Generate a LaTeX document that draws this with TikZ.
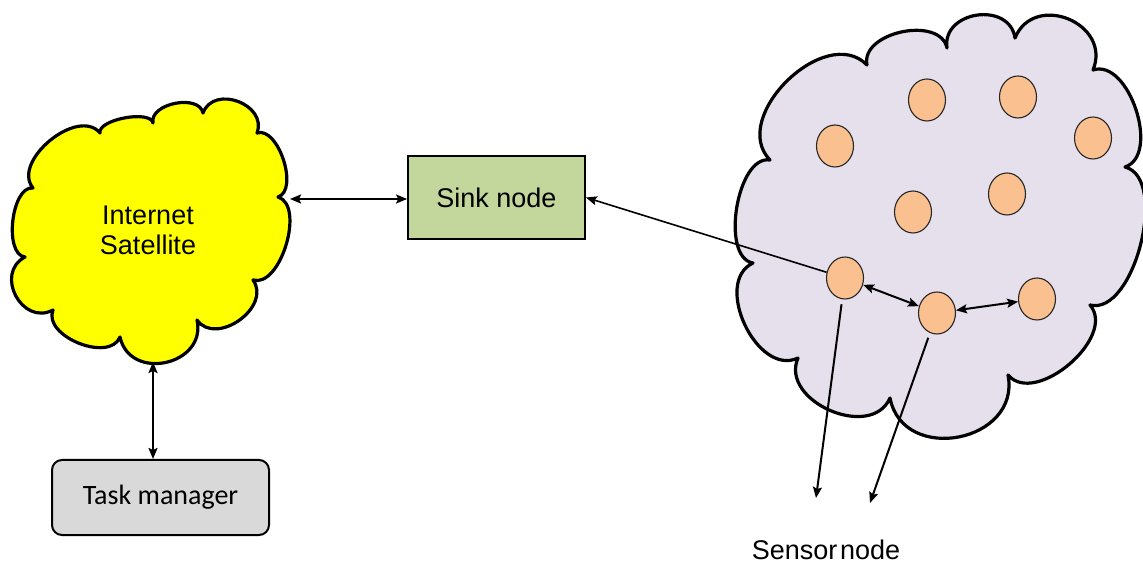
\documentclass[tikz,border=0pt]{standalone}
\usepackage{fontspec}
\setmainfont{Liberation Sans}
\newfontfamily\calibrifont{Carlito}
\usetikzlibrary{arrows.meta,shapes.geometric}

\definecolor{skyyellow}{HTML}{FFFF00}
\definecolor{fieldlilac}{HTML}{E5E0EC}
\definecolor{sensorfill}{HTML}{FAC090}
\definecolor{sinkgreen}{HTML}{C3D69B}
\definecolor{taskgray}{HTML}{D9D9D9}

\tikzset{
  puff/.style={bend left=90, looseness=#1},
  cloudline/.style={draw=black, line width=3.2pt, line join=round},
  sensor/.style={ellipse, draw=black!85, line width=1.1pt, fill=sensorfill,
    minimum width=37pt, minimum height=42pt, inner sep=0pt},
  >={Stealth[length=11pt, width=9pt, inset=2pt]},
  link/.style={line width=2pt},
  boxtext/.style={font=\fontsize{27}{30}\selectfont},
}

\begin{document}
\begin{tikzpicture}[x=1pt, y=1pt]
\useasboundingbox (0,0) rectangle (1143,565);

% Internet / satellite cloud
\draw[cloudline, fill=skyyellow]
  (33,377) to[puff=1.02] (100,432) to[puff=0.65] (153,442)
  to[puff=1.0] (203,452) to[puff=1.36] (257,432)
  to[puff=0.85] (278,368) to[puff=0.85] (253,285)
  to[puff=1.23] (197,245) to[puff=1.5] (120,228)
  to[puff=1.0] (53,255) to[puff=1.5] (25,308)
  to[puff=0.8] (33,377) -- cycle;
\node[boxtext, align=center] (inet) at (148,335) {Internet\\Satellite};
\coordinate (inetR) at (290,366);
\coordinate (inetB) at (153,203);

% Sensor field cloud
\draw[cloudline, fill=fieldlilac]
  (770,405) to[puff=1.12] (867,500) to[puff=1.05] (947,517)
  to[puff=1.4] (1015,527) to[puff=1.53] (1093,495)
  to[puff=0.95] (1125,398) to[puff=0.82] (1090,260)
  to[puff=1.0] (1008,190) to[puff=1.46] (890,167)
  to[puff=1.2] (798,207) to[puff=1.1] (753,302)
  to[puff=0.82] (770,405) -- cycle;

% Boxes
\node[boxtext, draw=black, line width=1.8pt, fill=sinkgreen,
  minimum width=177pt, minimum height=83pt, inner sep=0pt]
  (sink) at (496.5,367.5) {Sink node};
\node[font=\calibrifont\fontsize{28}{30}\selectfont, draw=black,
  line width=2pt, fill=taskgray, rounded corners=10pt,
  minimum width=217pt, minimum height=75pt, inner sep=0pt]
  (task) at (160.5,67.5) {Task manager};

% Sensor nodes
\node[sensor] (s1) at (927,465) {};
\node[sensor] (s2) at (1018,468) {};
\node[sensor] (s3) at (1093,427) {};
\node[sensor] (s4) at (835,419) {};
\node[sensor] (s5) at (1007,371) {};
\node[sensor] (s6) at (913,353) {};
\node[sensor] (s7) at (845,287) {};
\node[sensor] (s8) at (937,252) {};
\node[sensor] (s9) at (1037,266) {};

% Label and free ends of the sensor pointers
\node[font=\fontsize{27}{29}\selectfont, anchor=base] (label) at (826,6)
  {Sensor\hspace{0.1em}node};
\coordinate (p1) at (816,67);
\coordinate (p2) at (870,62);

% Connectors
\draw[link, <->] (inetR) -- (inetR -| sink.west);
\draw[link, <->] (inetB) -- (inetB |- task.north);
\draw[line width=1.6pt, ->] (s7) -- (sink.east);
\draw[link, <->] (s7) -- (s8);
\draw[link, <->] (s8) -- (s9);
\draw[link, ->, shorten <=5pt] (s7) -- (p1);
\draw[link, ->, shorten <=5pt] (s8) -- (p2);
\end{tikzpicture}
\end{document}
